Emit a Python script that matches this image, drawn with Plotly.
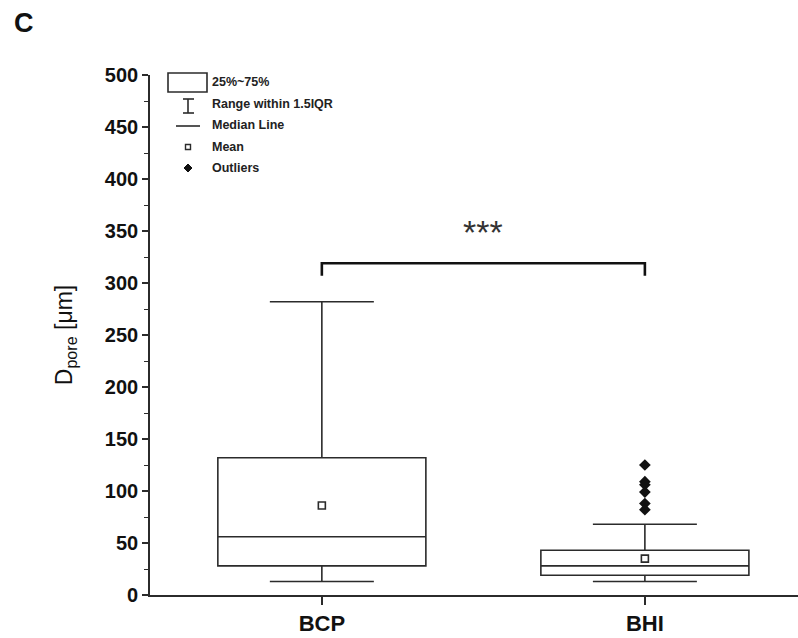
import plotly.graph_objects as go

# ---- data ----
groups = ["BCP", "BHI"]
q1 = [28, 19]
median = [56, 28]
q3 = [132, 43]
lower_fence = [13, 13]
upper_fence = [282, 68]
means = [86, 35]
bhi_outliers = [125, 109, 106, 99, 88, 82]
sig_y = 319
sig_drop = 307
sig_label = "***"
sig_label_y = 329
y_ticks = list(range(0, 501, 50))

# ---- geometry helpers (pixel layout) ----
W, H = 798, 638
L, R, T, B = 150, 0, 75, 43
PW = W - L - R
PH = H - T - B

def px(xp):
    return (xp - L) / PW

def py(yp):
    return (H - B - yp) / PH

ink = "#2b2b2b"
fig = go.Figure()

fig.add_trace(go.Box(
    x=groups, q1=q1, median=median, q3=q3,
    lowerfence=lower_fence, upperfence=upper_fence,
    boxpoints=False, boxmean=False, orientation="v",
    width=0.644, whiskerwidth=0.5,
    fillcolor="white", line=dict(color=ink, width=1.6),
    showlegend=False, hoverinfo="skip",
))

fig.add_trace(go.Scatter(
    x=groups, y=means, mode="markers",
    marker=dict(symbol="square-open", size=7, color=ink, line=dict(width=1.6)),
    showlegend=False, hoverinfo="skip",
))

fig.add_trace(go.Scatter(
    x=[groups[1]] * len(bhi_outliers), y=bhi_outliers, mode="markers",
    marker=dict(symbol="diamond", size=9, color="#111"),
    showlegend=False, hoverinfo="skip",
))

# significance bracket
fig.add_trace(go.Scatter(
    x=[groups[0], groups[0], groups[1], groups[1]],
    y=[sig_drop, sig_y, sig_y, sig_drop], mode="lines",
    line=dict(color="#111", width=2.6),
    showlegend=False, hoverinfo="skip",
))
fig.add_annotation(x=0.5, y=sig_label_y, xref="x", yref="y", text=sig_label,
                   showarrow=False, yanchor="bottom",
                   font=dict(family="Liberation Sans", size=34, color="#333"))

# ---- custom legend ----
shapes = []
shapes.append(dict(type="rect", xref="paper", yref="paper",
                   x0=px(168), x1=px(207), y0=py(92), y1=py(73),
                   line=dict(color=ink, width=1.6), fillcolor="white"))
# I-beam
for (x0, y0, x1, y1) in [(188, 99, 188, 113), (183, 99, 194, 99), (183, 113, 194, 113)]:
    shapes.append(dict(type="line", xref="paper", yref="paper",
                       x0=px(x0), x1=px(x1), y0=py(y0), y1=py(y1),
                       line=dict(color=ink, width=1.6)))
# median line
shapes.append(dict(type="line", xref="paper", yref="paper",
                   x0=px(176), x1=px(200), y0=py(126), y1=py(126),
                   line=dict(color=ink, width=1.6)))
# mean square
shapes.append(dict(type="rect", xref="paper", yref="paper",
                   x0=px(185.5), x1=px(190.5), y0=py(149.5), y1=py(144.5),
                   line=dict(color=ink, width=1.4), fillcolor="white"))
# diamond
shapes.append(dict(type="path", xref="paper", yref="paper",
                   path=f"M {px(188)} {py(164)} L {px(192)} {py(168)} L {px(188)} {py(172)} L {px(184)} {py(168)} Z",
                   line=dict(color="#111", width=1), fillcolor="#111"))

leg_labels = ["25%~75%", "Range within 1.5IQR", "Median Line", "Mean", "Outliers"]
leg_y = [82, 104, 125, 147, 168]
for lab, yy in zip(leg_labels, leg_y):
    fig.add_annotation(x=px(210), y=py(yy), xref="paper", yref="paper",
                       text="<b>" + lab + "</b>", showarrow=False, xanchor="left", yanchor="middle",
                       font=dict(family="Liberation Sans", size=12.5, color="#222"))

# panel letter
fig.add_annotation(x=px(12), y=py(23), xref="paper", yref="paper",
                   xanchor="left", yanchor="middle", text="<b>C</b>", showarrow=False,
                   font=dict(family="Liberation Sans", size=27, color="#111"))

fig.update_layout(
    width=W, height=H,
    margin=dict(l=L, r=R, t=T, b=B, autoexpand=False),
    paper_bgcolor="white", plot_bgcolor="white",
    shapes=shapes,
    xaxis=dict(
        range=[-0.532, 1.474], showgrid=False, zeroline=False,
        showline=True, linecolor=ink, linewidth=1.6,
        ticks="outside", ticklen=8, tickwidth=1.6, tickcolor=ink,
        tickfont=dict(family="Liberation Sans", size=22, color="#111", weight="bold"),
        ticklabelstandoff=0,
        categoryorder="array", categoryarray=groups,
    ),
    yaxis=dict(
        range=[0, 500], showgrid=False, zeroline=False,
        showline=True, linecolor=ink, linewidth=1.6,
        tickvals=y_ticks, ticks="outside", ticklen=6, tickwidth=1.6, tickcolor=ink,
        tickfont=dict(family="Liberation Sans", size=20, color="#111", weight="bold"),
        minor=dict(dtick=25, ticks="outside", ticklen=4, tickwidth=1.4, tickcolor=ink),
        title=dict(text="D<sub>pore</sub> [μm]", standoff=26,
                   font=dict(family="Liberation Sans", size=23, color="#111")),
    ),
)

fig.write_html("out.html")
